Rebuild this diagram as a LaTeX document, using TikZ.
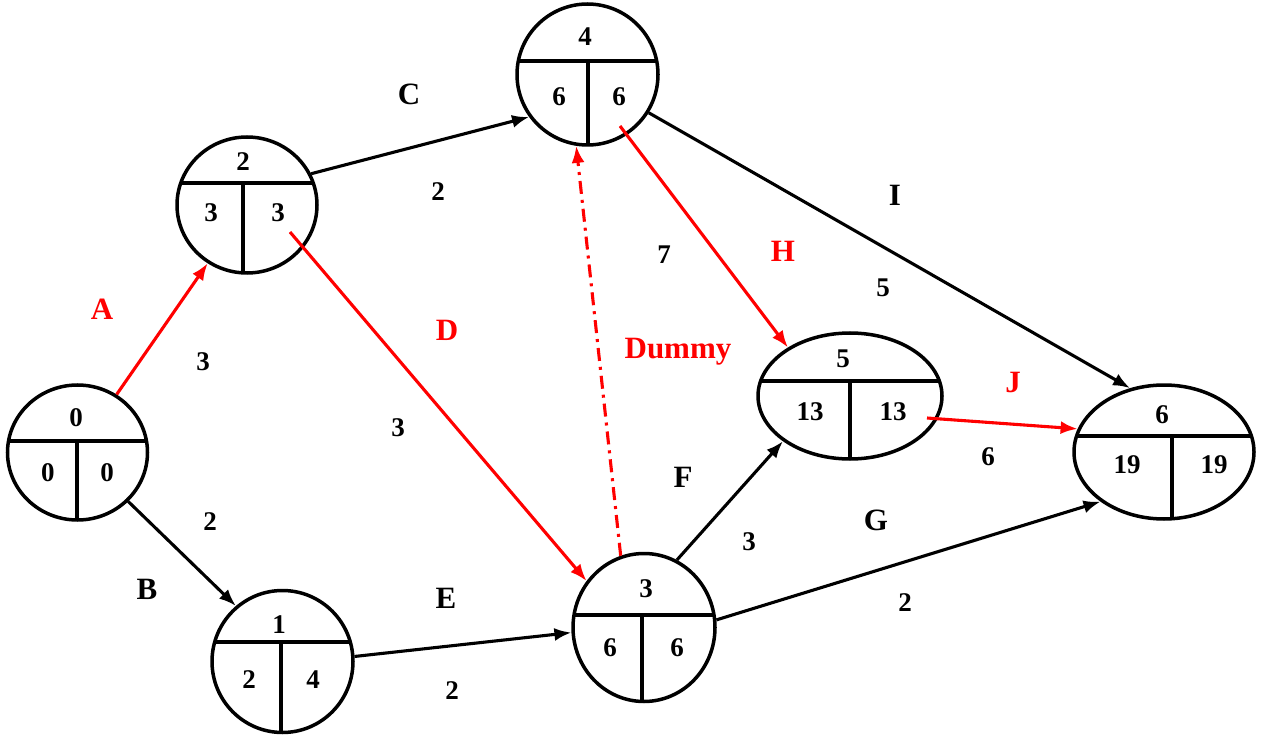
\documentclass[tikz,border=0pt]{standalone}
\usepackage{fontspec}
\setmainfont{Liberation Serif}
\usetikzlibrary{shapes.geometric,arrows.meta}
\newcommand\evdiv[6]{%
  \begin{scope}
    \clip (#1,#2) ellipse [x radius=#3, y radius=#4];
    \draw[divline] (#1-#3-5,#5) -- (#1+#3+5,#5);
    \draw[divline] (#6,#5) -- (#6,#2+#4+5);
  \end{scope}}
\begin{document}
\begin{tikzpicture}[x=1pt,y=-1pt,
  ev/.style={draw, ellipse, line width=3.5pt, inner sep=0pt},
  divline/.style={line width=3.5pt},
  num/.style={font=\fontsize{27}{30}\selectfont\bfseries, inner sep=0pt},
  lab/.style={font=\fontsize{31}{34}\selectfont\bfseries, inner sep=0pt},
  elab/.style={font=\fontsize{27}{30}\selectfont\bfseries, inner sep=0pt},
  arr/.style={line width=3.1pt, -{Latex[length=17pt,width=13pt]}},
  crit/.style={arr, red},
  dummyline/.style={crit, dash pattern=on 13pt off 6pt on 3pt off 6pt}
]
\useasboundingbox (0,0) rectangle (1262,738);

% event nodes
\node[ev, minimum width=140, minimum height=135] (n0) at (77.5,452.5) {};
\node[ev, minimum width=140, minimum height=136] (n2) at (247,205) {};
\node[ev, minimum width=141, minimum height=141] (n4) at (587.5,74.5) {};
\node[ev, minimum width=141, minimum height=142] (n1) at (282.5,661.5) {};
\node[ev, minimum width=142, minimum height=148] (n3) at (644,627.5) {};
\node[ev, minimum width=184, minimum height=126] (n5) at (850,396) {};
\node[ev, minimum width=180, minimum height=134] (n6) at (1164,452) {};

\evdiv{77.5}{452.5}{70}{67.5}{441}{77}
\evdiv{247}{205}{70}{68}{183}{243}
\evdiv{587.5}{74.5}{70.5}{70.5}{61}{588}
\evdiv{282.5}{661.5}{70.5}{71}{642}{281}
\evdiv{644}{627.5}{71}{74}{615}{642}
\evdiv{850}{396}{92}{63}{381}{850}
\evdiv{1164}{452}{90}{67}{436}{1172}

% numbers in events
\node[num] (t0a) at (76,418) {0};
\node[num] (t0b) at (48,473) {0};
\node[num] (t0c) at (107,473) {0};
\node[num] (t2a) at (243,162) {2};
\node[num] (t2b) at (211,213) {3};
\node[num] (t2c) at (278,213) {3};
\node[num] (t4a) at (585,37) {4};
\node[num] (t4b) at (559,97) {6};
\node[num] (t4c) at (619,97) {6};
\node[num] (t1a) at (279,625) {1};
\node[num] (t1b) at (249,680) {2};
\node[num] (t1c) at (313,680) {4};
\node[num] (t3a) at (646,589) {3};
\node[num] (t3b) at (610,648) {6};
\node[num] (t3c) at (677,648) {6};
\node[num] (t5a) at (843,359) {5};
\node[num] (t5b) at (810,412) {13};
\node[num] (t5c) at (893,412) {13};
\node[num] (t6a) at (1162,415) {6};
\node[num] (t6b) at (1127,465) {19};
\node[num] (t6c) at (1214,465) {19};

% interior start points
\coordinate (d0) at (290,232);
\coordinate (h0) at (620,126);
\coordinate (j0) at (927,418);

% activities
\draw[crit] (n0.56) -- (n2.-124);
\draw[arr] (n0.-44) -- (n1.130);
\draw[arr] (n2.26) -- (n4.216);
\draw[crit] (d0) -- (n3.141);
\draw[arr] (n1.4) -- (n3.184);
\draw[dummyline] (n3.108) -- (n4.261);
\draw[arr] (n3.64) -- (n5.214);
\draw[arr] (n3.6) -- (n6.218);
\draw[crit] (h0) -- (n5.142);
\draw[arr] (n4.-32) -- (n6.118);
\draw[crit] (j0) -- (n6.165);

% labels
\node[lab, red] (lA) at (102,309) {A};
\node[elab] (dA) at (203,362) {3};
\node[lab] (lB) at (147,589) {B};
\node[elab] (dB) at (210,522) {2};
\node[lab] (lC) at (409,94) {C};
\node[elab] (dC) at (438,192) {2};
\node[lab, red] (lD) at (447,330) {D};
\node[elab] (dD) at (398,428) {3};
\node[lab] (lE) at (446,598) {E};
\node[elab] (dE) at (452,691) {2};
\node[lab, red] (lDm) at (678,352) {Dummy};
\node[elab] (d7) at (664,255) {7};
\node[lab] (lF) at (683,477) {F};
\node[elab] (dF) at (749,542) {3};
\node[lab] (lG) at (876,520) {G};
\node[elab] (dG) at (905,603) {2};
\node[lab, red] (lH) at (783,251) {H};
\node[elab] (d5) at (883,288) {5};
\node[lab] (lI) at (895,195) {I};
\node[lab, red] (lJ) at (1013,383) {J};
\node[elab] (dJ) at (988,457) {6};
\end{tikzpicture}
\end{document}
